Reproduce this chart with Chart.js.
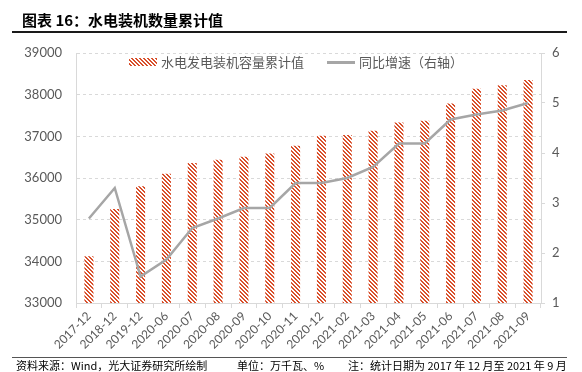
<!DOCTYPE html>
<html>
<head>
<meta charset="utf-8">
<script src="https://cdn.jsdelivr.net/npm/chart.js@4/dist/chart.umd.min.js"></script>
<style>
  body { margin: 0; background: #fff; }
  #wrap { position: relative; width: 582px; height: 372px; overflow: hidden; font-family: "Noto Sans CJK SC", sans-serif; }
  #chart { position: absolute; left: 0; top: 0; }
  .abs { position: absolute; white-space: nowrap; }
  #title { left: 22px; top: 9px; font-size: 15px; font-weight: bold; color: #000; }
  #titleRule { left: 12px; top: 31px; width: 555px; height: 2px; background: #1a1a1a; }
  #footRule { left: 12px; top: 357px; width: 555px; height: 1px; background: #555; }
  .foot { top: 358px; font-size: 11px; color: #000; line-height: 14px; }
  .legText { font-size: 13px; color: #595959; line-height: 16px; top: 54px; }
  #legBar { left: 129px; top: 58px; width: 28px; height: 8px;
    background: repeating-linear-gradient(45deg, #fff 0 1.4px, #d9502c 1.4px 2.8px); }
  #legLine { left: 327px; top: 61px; width: 28px; height: 2.5px; background: #a6a6a6; }
</style>
</head>
<body>
<div id="wrap">
  <canvas id="chart" width="582" height="372"></canvas>
  <div class="abs" id="title">图表 16：水电装机数量累计值</div>
  <div class="abs" id="titleRule"></div>
  <div class="abs" id="legBar"></div>
  <div class="abs legText" style="left:161px">水电发电装机容量累计值</div>
  <div class="abs" id="legLine"></div>
  <div class="abs legText" style="left:359px">同比增速（右轴）</div>
  <div class="abs" id="footRule"></div>
  <div class="abs foot" style="left:16px">资料来源：Wind，光大证券研究所绘制</div>
  <div class="abs foot" style="left:237px">单位：万千瓦、%</div>
  <div class="abs foot" style="left:348px">注：统计日期为 2017 年 12 月至 2021 年 9 月</div>
</div>
<script>
const months = ['2017-12', '2018-12', '2019-12', '2020-06', '2020-07', '2020-08', '2020-09', '2020-10', '2020-11',
  '2020-12', '2021-02', '2021-03', '2021-04', '2021-05', '2021-06', '2021-07', '2021-08', '2021-09'];
// 水电发电装机容量累计值（万千瓦）
const capacity = [34120, 35255, 35800, 36100, 36360, 36440, 36510, 36590, 36775,
  37015, 37030, 37135, 37330, 37375, 37790, 38145, 38225, 38350];
// 同比增速（%，右轴）
const growth = [2.69, 3.3, 1.53, 1.87, 2.5, 2.69, 2.9, 2.9, 3.4,
  3.4, 3.5, 3.72, 4.19, 4.19, 4.67, 4.77, 4.85, 5.0];
const leftTicks = [33000, 39000, 1000];
const rightTicks = [1, 6, 1];

const axisGray = '#D9D9D9';
const textGray = '#595959';
const tickFont = { family: 'Lato, "Noto Sans CJK SC", sans-serif', size: 13 };

// striped fill for the bars, like the excel pattern
function makeStripes() {
  const c = document.createElement('canvas');
  c.width = 4;
  c.height = 4;
  const g = c.getContext('2d');
  g.fillStyle = '#ffffff';
  g.fillRect(0, 0, 4, 4);
  g.fillStyle = '#d9502c';
  for (let x = 0; x < 4; x++) {
    for (let y = 0; y < 4; y++) {
      if (((x - y) % 4 + 4) % 4 < 2) g.fillRect(x, y, 1, 1);
    }
  }
  return g.createPattern(c, 'repeat');
}

const ctx = document.getElementById('chart').getContext('2d');
const stripes = makeStripes();

new Chart(ctx, {
  data: {
    labels: months,
    datasets: [
      {
        type: 'line',
        label: '同比增速（右轴）',
        data: growth,
        yAxisID: 'y1',
        borderColor: '#A6A6A6',
        borderWidth: 2.5,
        pointRadius: 0,
        tension: 0,
        order: 0
      },
      {
        type: 'bar',
        label: '水电发电装机容量累计值',
        data: capacity,
        yAxisID: 'y',
        backgroundColor: stripes,
        borderWidth: 0,
        categoryPercentage: 1,
        barPercentage: 0.35,
        order: 1
      }
    ]
  },
  options: {
    responsive: false,
    animation: false,
    devicePixelRatio: 1,
    layout: { padding: { top: 53, left: 0, right: 0, bottom: 0 } },
    plugins: {
      legend: { display: false },
      tooltip: { enabled: false }
    },
    scales: {
      x: {
        grid: { offset: true, drawOnChartArea: false, drawTicks: true, tickLength: 5, color: axisGray },
        border: { color: axisGray },
        ticks: { color: textGray, font: { family: tickFont.family, size: 12 }, maxRotation: 45, minRotation: 45, padding: 1, autoSkip: false },
        afterFit: (scale) => { scale.height = 69; }
      },
      y: {
        position: 'left',
        min: leftTicks[0],
        max: leftTicks[1],
        ticks: { stepSize: leftTicks[2], color: textGray, font: tickFont, padding: 14, callback: (v) => String(v) },
        grid: { color: axisGray, drawTicks: false },
        border: { color: axisGray, dash: [3, 3] },
        afterFit: (scale) => { scale.width = 76; }
      },
      y1: {
        position: 'right',
        min: rightTicks[0],
        max: rightTicks[1],
        ticks: { stepSize: rightTicks[2], color: textGray, font: tickFont, padding: 7, callback: (v) => String(v) },
        grid: { drawOnChartArea: false, drawTicks: true, tickLength: 4, color: axisGray },
        border: { color: axisGray },
        afterFit: (scale) => { scale.width = 41; }
      }
    }
  }
});
</script>
</body>
</html>
